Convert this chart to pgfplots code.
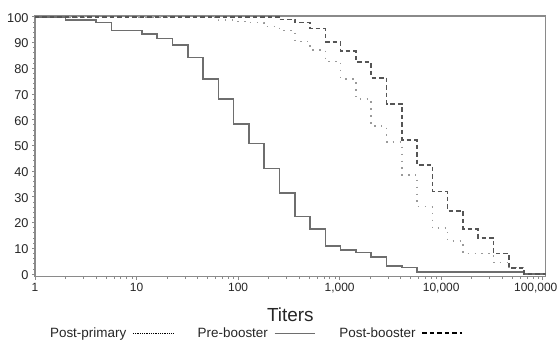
\documentclass[border=0pt]{standalone}
\usepackage{fontspec}
\setmainfont{Liberation Sans}
\usepackage{pgfplots}
\pgfplotsset{compat=1.18}
\definecolor{framegray}{HTML}{8A8A8A}
\definecolor{preclr}{HTML}{6E6E6E}
\definecolor{postbclr}{HTML}{555555}
\definecolor{postpclr}{HTML}{9A9A9A}
\begin{document}
\begin{tikzpicture}
\useasboundingbox (-35bp,-64.3bp) rectangle (524bp,276.7bp);
\begin{axis}[
  at={(0,0)}, anchor=south west,
  scale only axis, width=510.7bp, height=260.7bp,
  xmode=log, xmin=1, xmax=1.07e5, ymin=-1.05, ymax=100.3,
  xtick={1,10,100,1000,10000,100000},
  xticklabels={1,10,100,{1,000},{10,000},{\hspace*{-14bp}100,000}},
  ytick={0,10,...,100},
  minor y tick num=4,
  xtick pos=bottom, ytick pos=left,
  tick align=outside,
  major tick length=3bp, minor tick length=2bp,
  axis line style={draw=framegray, line width=1.3bp},
  every tick/.append style={framegray, line width=0.7bp},
  x tick label style={font=\fontsize{12}{14}\selectfont, text=black!85},
  y tick label style={font=\fontsize{12.8}{14}\selectfont, text=black!85, yshift=-1bp},
  /pgf/number format/assume math mode=true,
  xlabel={Titers},
  xlabel style={font=\fontsize{19}{22}\selectfont, text=black!85, at={(axis description cs:0.5,0)}, anchor=base, yshift=-45bp},
  legend columns=3,
  legend plot pos=right,
  legend style={at={(axis description cs:0.432,0)}, anchor=center, yshift=-56.5bp, draw=none, fill=none,
    font=\fontsize{13.5}{16}\selectfont, text=black!85,
    /tikz/every even column/.append style={column sep=22bp},
    /tikz/every odd column/.append style={column sep=4bp}},
  legend image code/.code={\draw[#1] (0bp,0bp) -- (40bp,0bp);},
]
% Post-primary (dotted)
\addplot[const plot, draw=postpclr, line width=1.6bp, dash pattern=on 1.4bp off 5.5bp,
  legend image post style={draw=black, line width=1.4bp, dash pattern=on 1bp off 0.8bp}] coordinates {
(1,100) (64,98.7) (90.51,98.2) (128,97.7) (181.02,96.2) (256,94.6) (362.04,90.4) (512,87.1)
(724.08,82.6) (1024,75.8) (1448.15,68.0) (2048,57.5) (2896.31,51.3) (4096,38.5) (5792.62,26.2)
(8192,17.8) (11585.24,12.9) (16384,8.0) (32768,4.4) (46340.95,2.5) (65536,0) (107000,0)
};
\addlegendentry{Post-primary}
% Pre-booster (solid)
\addplot[const plot, draw=preclr, line width=1.6bp,
  legend image post style={draw=preclr, line width=1.4bp}] coordinates {
(1,100) (2,98.7) (4,97.8) (5.66,94.6) (11.31,93.2) (16,91.6) (22.63,89.0) (32,84.2) (45.25,75.9)
(64,68.0) (90.51,58.2) (128,50.8) (181.02,41.0) (256,31.6) (362.04,22.3) (512,17.4) (724.08,11.0)
(1024,9.3) (1448.15,8.4) (2048,6.7) (2896.31,3.2) (4096,2.6) (5792.62,0.8) (65536,0) (107000,0)
};
\addlegendentry{Pre-booster}
% Post-booster (dashed)
\addplot[const plot, draw=postbclr, line width=1.6bp, dash pattern=on 4.5bp off 3bp,
  legend image post style={draw=black, line width=1.6bp, dash pattern=on 4.5bp off 3bp}] coordinates {
(1,100) (256,98.9) (362.04,97.7) (512,95.4) (724.08,90.3) (1024,86.6) (1448.15,82.4) (2048,76.3)
(2896.31,66.1) (4096,52.0) (5792.62,42.4) (8192,32.0) (11585.24,24.6) (16384,17.4) (23170.48,14.1)
(32768,8.0) (46340.95,2.4) (65536,0) (107000,0)
};
\addlegendentry{Post-booster}
\end{axis}
\end{tikzpicture}
\end{document}
